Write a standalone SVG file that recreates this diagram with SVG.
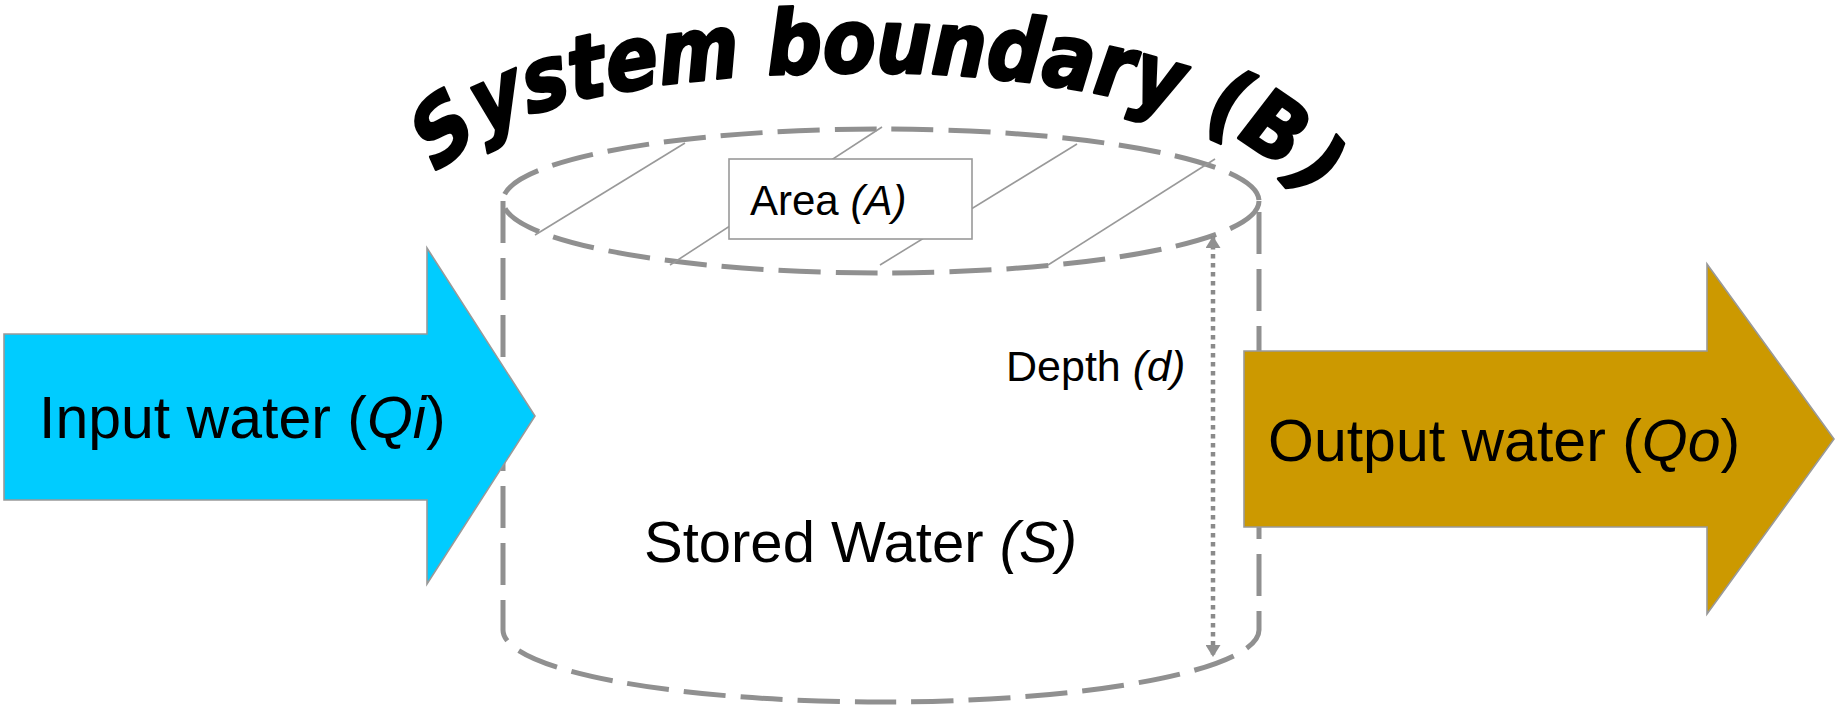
<svg xmlns="http://www.w3.org/2000/svg" width="1843" height="709" viewBox="0 0 1843 709">
<style>
.lbl{font-family:"Liberation Sans",Arial,sans-serif;fill:#000}
.it{font-style:italic}
.bound{fill:none;stroke:#909090;stroke-width:5;stroke-dasharray:42 15}
.hatch{stroke:#999;stroke-width:1.6;fill:none}
.arrow{stroke:#999;stroke-width:1.6}
.title{font-family:"DejaVu Sans",sans-serif;font-weight:bold;font-style:italic;fill:#000;stroke:#000;stroke-width:2.5;stroke-linejoin:round}
</style>
<defs>
<marker id="tri" viewBox="0 0 10 10" refX="10" refY="5" markerUnits="userSpaceOnUse" markerWidth="12" markerHeight="15" preserveAspectRatio="none" orient="auto-start-reverse">
<path d="M0,0 L10,5 L0,10 z" fill="#909090"/>
</marker>
<path id="arc" d="M440,153.5 C482,84.5 700,62.8 860,62.8 C1025,62.8 1240,86.5 1308,172.5"/>
</defs>
<rect width="1843" height="709" fill="#fff"/>
<g id="cylinder">
<ellipse class="bound" cx="881" cy="201" rx="378" ry="72"/>
<path class="bound" d="M503,201 L503,630 A378,72 0 0 0 1259,630 L1259,201"/>
<g id="hatching">
<line class="hatch" x1="685" y1="143" x2="535" y2="235"/>
<line class="hatch" x1="882" y1="127" x2="670" y2="265"/>
<line class="hatch" x1="1077" y1="144" x2="880" y2="265"/>
<line class="hatch" x1="1215" y1="159" x2="1048" y2="265"/>
</g>
<text class="lbl" x="644" y="562" font-size="58">Stored Water <tspan class="it">(S)</tspan></text>
</g>
<g id="area">
<rect x="729" y="159" width="243" height="80" fill="#fff" stroke="#999" stroke-width="1.6"/>
<text class="lbl" x="750" y="215" font-size="42">Area <tspan class="it">(A)</tspan></text>
</g>
<g id="connectors">
<line x1="1213" y1="236" x2="1213" y2="657" stroke="#8a8a8a" stroke-width="4.5" stroke-dasharray="4.5 4.5" marker-start="url(#tri)" marker-end="url(#tri)"/>
</g>
<g id="depth">
<text class="lbl" x="1006" y="381" font-size="43">Depth <tspan class="it">(d)</tspan></text>
</g>
<g id="input">
<path class="arrow" fill="#00CCFF" d="M4,334 L427,334 L427,248 L535,416 L427,584 L427,500 L4,500 Z"/>
<text class="lbl" x="39" y="438" font-size="59">Input water (<tspan class="it">Qi</tspan>)</text>
</g>
<g id="output">
<path class="arrow" fill="#CC9900" d="M1244,351 L1707,351 L1707,264 L1834,439 L1707,614 L1707,527 L1244,527 Z"/>
<text class="lbl" x="1268" y="461" font-size="59">Output water (<tspan class="it">Qo</tspan>)</text>
</g>
<g id="title">
<text class="title" font-size="77" transform="scale(1,1.15)"><textPath href="#arc">System boundary (B)</textPath></text>
</g>
</svg>
